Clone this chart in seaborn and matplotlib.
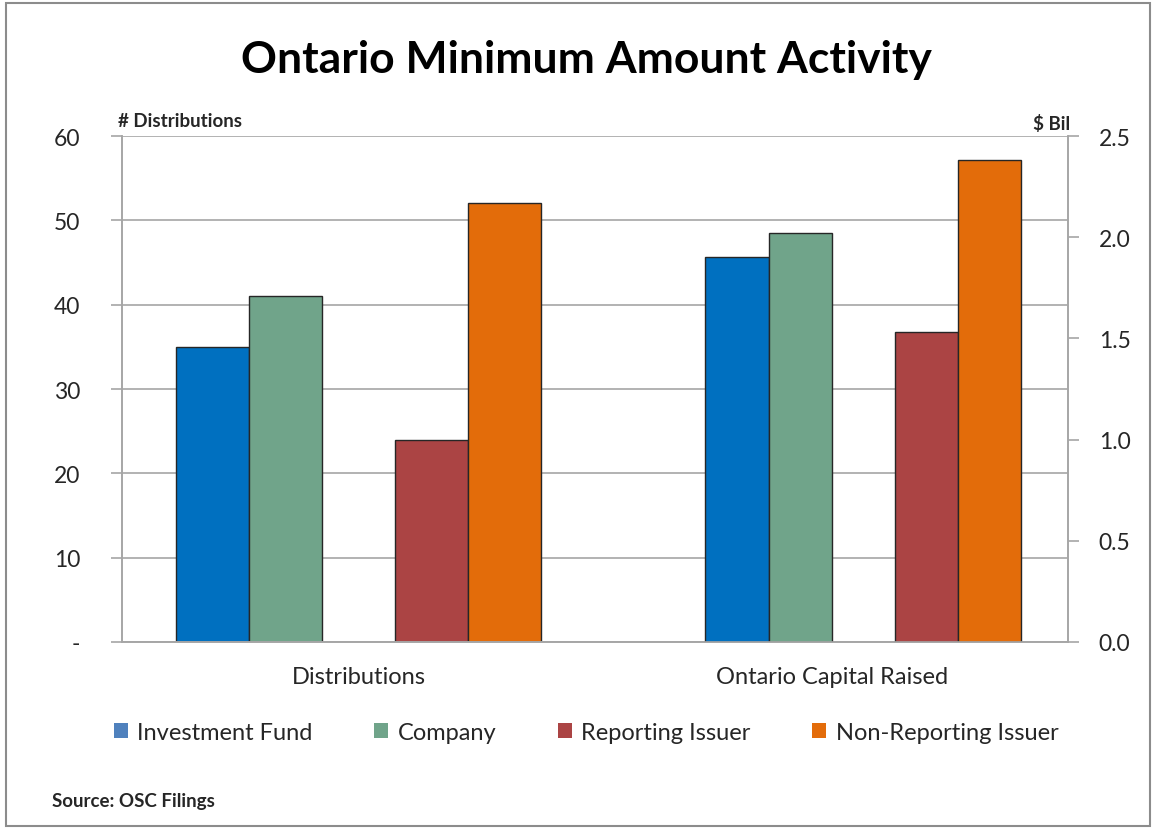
import pandas as pd
import seaborn as sns
import matplotlib.pyplot as plt
from matplotlib.patches import Patch, Rectangle
from matplotlib.ticker import FuncFormatter

# categories and series
categories = ["Distributions", "Ontario Capital Raised"]
series = ["Investment Fund", "Company", "Reporting Issuer", "Non-Reporting Issuer"]

# values
distributions = [35, 41, 24, 52]           # number of distributions (left axis)
capital_raised = [1.90, 2.02, 1.53, 2.38]  # $ billions (right axis)

bar_colors = ["#0070C0", "#70A48A", "#AB4444", "#E36C0A"]
legend_colors = ["#4F81BD", "#70A48A", "#AB4444", "#E36C0A"]

# build frames, blank hue levels are used as spacers between the pairs
df_dist = pd.DataFrame({"cat": categories[0], "series": series, "value": distributions})
df_cap = pd.DataFrame({"cat": categories[1], "series": series, "value": capital_raised})

palette = dict(zip(series, bar_colors))
palette["_gap1"] = "white"
palette["_gap2"] = "white"

order_left = ["Investment Fund", "Company", "_gap1", "Reporting Issuer", "Non-Reporting Issuer"]
order_right = ["_gap2", "Investment Fund", "Company", "_gap1", "Reporting Issuer", "Non-Reporting Issuer"]

sns.set_style("white")
plt.rcParams["font.family"] = ["Lato", "DejaVu Sans"]

fig = plt.figure(figsize=(11.56, 8.29), dpi=100)
ax1 = fig.add_axes([0.1055, 0.2244, 0.8185, 0.6103])

sns.barplot(data=df_dist, x="cat", y="value", hue="series", order=categories,
            hue_order=order_left, palette=palette, width=0.77, ax=ax1,
            edgecolor="#262626", linewidth=1.0, legend=False, saturation=1)
ax2 = ax1.twinx()
sns.barplot(data=df_cap, x="cat", y="value", hue="series", order=categories,
            hue_order=order_right, palette=palette, width=0.8, ax=ax2,
            edgecolor="#262626", linewidth=1.0, legend=False, saturation=1)

grid_c = "#A6A6A6"
ax1.set_xlim(-0.5, 1.5)
ax1.set_ylim(0, 60)
ax1.set_yticks(range(0, 61, 10))
ax1.yaxis.set_major_formatter(FuncFormatter(lambda v, p: "-" if v == 0 else f"{int(v)}"))
ax1.yaxis.grid(True, color=grid_c, linewidth=1.2)
ax1.set_axisbelow(True)
ax2.set_ylim(0, 2.5)
ax2.set_yticks([0, 0.5, 1.0, 1.5, 2.0, 2.5])
ax2.yaxis.set_major_formatter(FuncFormatter(lambda v, p: f"{v:.1f}"))

for ax, pad in ((ax1, 22), (ax2, 14)):
    ax.set_xlabel("")
    ax.set_ylabel("")
    ax.spines["top"].set_visible(False)
    for s in ("left", "right", "bottom"):
        ax.spines[s].set_color(grid_c)
        ax.spines[s].set_linewidth(1.2)
    ax.tick_params(axis="y", direction="out", length=8, width=1.2, color=grid_c,
                   labelsize=16.5, labelcolor="#262626", pad=pad)

# category ticks sit between the groups
ax1.set_xticks([0, 1])
ax1.set_xticklabels(categories)
ax1.tick_params(axis="x", length=0, labelsize=17, labelcolor="#262626", pad=17)
ax1.set_xticks([-0.5, 0.5, 1.5], minor=True)
ax1.tick_params(axis="x", which="minor", direction="out", length=8, width=1.2, color=grid_c)

fig.text(0.507, 0.928, "Ontario Minimum Amount Activity", ha="center", va="center",
         fontsize=32, fontweight="bold", color="black")
fig.text(0.102, 0.854, "# Distributions", ha="left", va="center", fontsize=13.5, fontweight="bold")
fig.text(0.926, 0.851, "$ Bil", ha="right", va="center", fontsize=13.5, fontweight="bold")
fig.text(0.045, 0.033, "Source: OSC Filings", ha="left", va="center", fontsize=13.5, fontweight="bold")

handles = [Patch(facecolor=c, edgecolor="none", label=s) for s, c in zip(series, legend_colors)]
fig.legend(handles=handles, loc="center", bbox_to_anchor=(0.507, 0.115), ncol=4,
           frameon=False, fontsize=17, handlelength=0.6, handleheight=0.6,
           handletextpad=0.4, columnspacing=2.6)

fig.patches.append(Rectangle((0.005, 0.003), 0.99, 0.992, transform=fig.transFigure,
                             fill=False, edgecolor="#8C8C8C", linewidth=1.5))

fig.savefig("out.png", dpi=100)
